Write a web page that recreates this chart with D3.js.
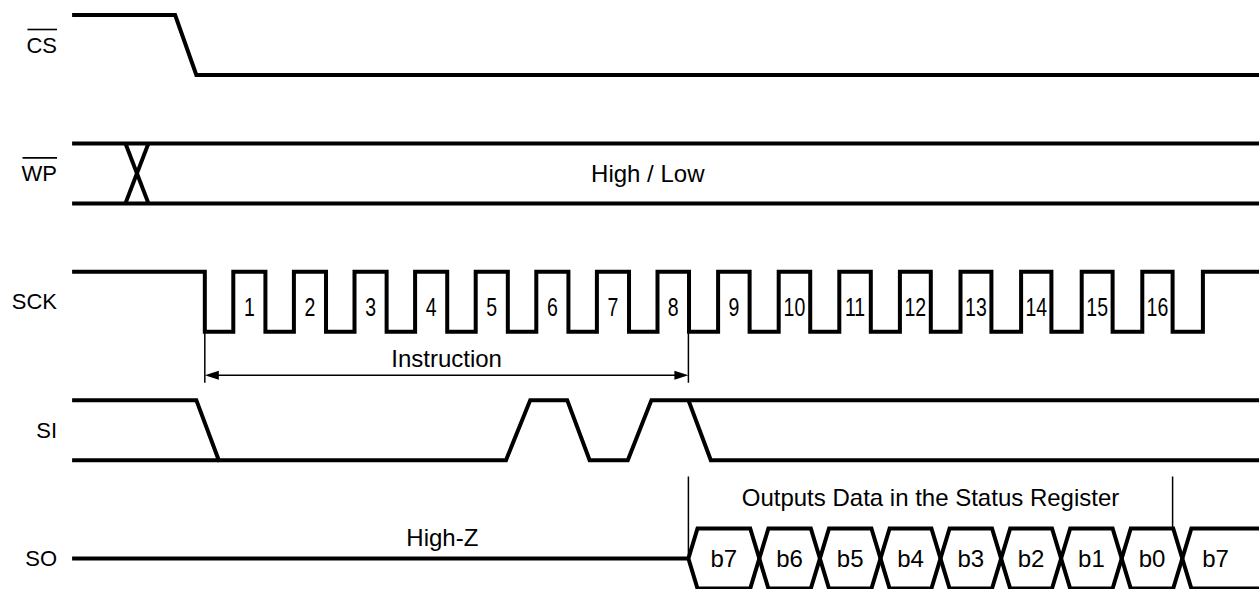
<!DOCTYPE html>
<html>
<head>
<meta charset="utf-8">
<script src="https://cdn.jsdelivr.net/npm/d3@7/dist/d3.min.js"></script>
<style>
  html, body { margin: 0; padding: 0; background: #fff; }
  svg { display: block; }
  text { font-family: "Liberation Sans", Arial, Helvetica, sans-serif; fill: #000; }
</style>
</head>
<body>
<svg id="chart" width="1259" height="589"></svg>
<script>
// ---------- data (time in clock periods, level: 1 = high, 0 = low, 0.5 = mid) ----------
const signals = ["CS", "WP", "SCK", "SI", "SO"];
const signalLabels = ["CS", "WP", "SCK", "SI", "SO"];
const overlined = [true, true, false, false, false];

const tStart = -2.66, tEnd = 16.93;

const csPaths = [
  [[tStart, 1], [-0.96, 1], [-0.61, 0], [tEnd, 0]]
];

const wpPaths = [
  [[tStart, 1], [tEnd, 1]],
  [[tStart, 0], [tEnd, 0]],
  [[-1.78, 1], [-1.40, 0]],
  [[-1.40, 1], [-1.78, 0]]
];
const wpText = "High / Low";
const wpTextT = 6.84;

const sckIdle = -0.47;
const sckRise = [0, 1, 2, 3, 4, 5, 6, 7, 8, 9, 10, 11, 12, 13, 14, 15, 16];
const sckFall = [0.53, 1.53, 2.53, 3.53, 4.53, 5.53, 6.53, 7.52, 8.52, 9.52, 10.52, 11.51, 12.51, 13.5, 14.51, 15.5];
const sckNumbers = ["1","2","3","4","5","6","7","8","9","10","11","12","13","14","15","16"];

const siPaths = [
  [[tStart, 1], [-0.61, 1], [-0.24, 0], [4.50, 0], [4.90, 1], [5.51, 1], [5.88, 0], [6.51, 0], [6.90, 1], [tEnd, 1]],
  [[tStart, 0], [-0.24, 0]],
  [[7.51, 1], [7.88, 0], [tEnd, 0]]
];

const instrStart = -0.47, instrEnd = 7.51;
const instrText = "Instruction";

const soHighZ = [[tStart, 0.5], [7.51, 0.5]];
const soHighZText = "High-Z";
const soHighZTextT = 3.45;
const soBounds = [7.51, 8.68, 9.68, 10.68, 11.67, 12.67, 13.66, 14.66, 15.66];
const soBits = ["b7", "b6", "b5", "b4", "b3", "b2", "b1", "b0", "b7"];
const soLastLabelT = 16.21;
const soHalfCross = 0.15;
const outStart = 7.51, outEnd = 15.5;
const outText = "Outputs Data in the Status Register";

// ---------- scales ----------
const W = 1259, H = 589;
const x = d3.scaleLinear().domain([0, 16]).range([233.3, 1202.9]);
const rowTop = d3.scalePoint().domain(signals).range([15, 528.5]);
const swing = 60;
const y = (sig, level) => rowTop(sig) + (1 - level) * swing;

const svg = d3.select("#chart");
const line = sig => d3.line().x(d => x(d[0])).y(d => y(sig, d[1]));

const thick = 4, thin = 1.5;
const fs = 24, labelFs = 22;

function drawPaths(sig, paths) {
  svg.append("g").selectAll("path").data(paths).join("path")
    .attr("d", d => line(sig)(d))
    .attr("fill", "none").attr("stroke", "#000")
    .attr("stroke-width", thick).attr("stroke-linejoin", "miter").attr("stroke-linecap", "butt");
}

// labels
signals.forEach((s, i) => {
  const t = svg.append("text")
    .attr("x", 57).attr("y", y(s, 0.5)).attr("dy", "0.35em")
    .attr("text-anchor", "end").attr("font-size", labelFs)
    .text(signalLabels[i]);
  if (overlined[i]) {
    const bb = t.node().getBBox();
    svg.append("line")
      .attr("x1", bb.x + 1).attr("x2", bb.x + bb.width)
      .attr("y1", y(s, 0.5) - 15.5).attr("y2", y(s, 0.5) - 15.5)
      .attr("stroke", "#000").attr("stroke-width", 1.6);
  }
});

// CS
drawPaths("CS", csPaths);

// WP
drawPaths("WP", wpPaths);
svg.append("text").attr("x", x(wpTextT)).attr("y", y("WP", 0.5)).attr("dy", "0.35em")
  .attr("text-anchor", "middle").attr("font-size", fs).text(wpText);

// SCK
const sckPts = [[tStart, 1], [sckIdle, 1], [sckIdle, 0]];
sckRise.forEach((r, i) => {
  sckPts.push([r, 0], [r, 1]);
  if (i < sckFall.length) sckPts.push([sckFall[i], 1], [sckFall[i], 0]);
});
sckPts.push([tEnd, 1]);
drawPaths("SCK", [sckPts]);
svg.append("g").selectAll("text").data(sckNumbers).join("text")
  .attr("transform", (d, i) => `translate(${(x(sckRise[i]) + x(sckFall[i])) / 2},${y("SCK", 0.5) + 5}) scale(0.78,1)`)
  .attr("dy", "0.35em").attr("text-anchor", "middle").attr("font-size", 25)
  .text(d => d);

// SI
drawPaths("SI", siPaths);

// Instruction marker
[instrStart, instrEnd].forEach(t => {
  svg.append("line").attr("x1", x(t)).attr("x2", x(t))
    .attr("y1", y("SCK", 0)).attr("y2", y("SCK", 0) + 51)
    .attr("stroke", "#000").attr("stroke-width", thin);
});
const arrowY = y("SCK", 0) + 43.5;
svg.append("line").attr("x1", x(instrStart) + 10).attr("x2", x(instrEnd) - 10)
  .attr("y1", arrowY).attr("y2", arrowY).attr("stroke", "#000").attr("stroke-width", thin);
const ah = 14, aw = 4.5;
svg.append("path")
  .attr("d", `M${x(instrStart)},${arrowY} L${x(instrStart) + ah},${arrowY - aw} L${x(instrStart) + ah},${arrowY + aw} Z`)
  .attr("fill", "#000");
svg.append("path")
  .attr("d", `M${x(instrEnd)},${arrowY} L${x(instrEnd) - ah},${arrowY - aw} L${x(instrEnd) - ah},${arrowY + aw} Z`)
  .attr("fill", "#000");
svg.append("text").attr("x", (x(instrStart) + x(instrEnd)) / 2).attr("y", arrowY - 17).attr("dy", "0.35em")
  .attr("text-anchor", "middle").attr("font-size", fs).text(instrText);

// SO
drawPaths("SO", [soHighZ]);
svg.append("text").attr("x", x(soHighZTextT)).attr("y", y("SO", 0.5) - 21).attr("dy", "0.35em")
  .attr("text-anchor", "middle").attr("font-size", fs).text(soHighZText);

const cells = soBounds.map((b, i) => {
  const e = i + 1 < soBounds.length ? soBounds[i + 1] : null;
  return { b, e, label: soBits[i] };
});
svg.append("g").selectAll("path").data(cells).join("path")
  .attr("d", c => {
    const w = soHalfCross;
    if (c.e !== null) {
      return line("SO")([[c.b, 0.5], [c.b + w, 1], [c.e - w, 1], [c.e, 0.5], [c.e - w, 0], [c.b + w, 0], [c.b, 0.5]]) + "Z";
    }
    return line("SO")([[tEnd + 0.2, 1], [c.b + w, 1], [c.b, 0.5], [c.b + w, 0], [tEnd + 0.2, 0]]);
  })
  .attr("fill", "none").attr("stroke", "#000").attr("stroke-width", thick).attr("stroke-linejoin", "miter");
svg.append("g").selectAll("text").data(cells).join("text")
  .attr("x", c => c.e !== null ? x((c.b + c.e) / 2) : x(soLastLabelT))
  .attr("y", y("SO", 0.5)).attr("dy", "0.35em")
  .attr("text-anchor", "middle").attr("font-size", fs).text(c => c.label);

// Outputs bracket
svg.append("line").attr("x1", x(outStart)).attr("x2", x(outStart))
  .attr("y1", y("SO", 1) - 52).attr("y2", y("SO", 0.5))
  .attr("stroke", "#000").attr("stroke-width", thin);
svg.append("line").attr("x1", x(outEnd)).attr("x2", x(outEnd))
  .attr("y1", y("SO", 1) - 52).attr("y2", y("SO", 1))
  .attr("stroke", "#000").attr("stroke-width", thin);
svg.append("text").attr("x", (x(outStart) + x(outEnd)) / 2).attr("y", y("SO", 1) - 31).attr("dy", "0.35em")
  .attr("text-anchor", "middle").attr("font-size", fs).text(outText);
</script>
</body>
</html>
